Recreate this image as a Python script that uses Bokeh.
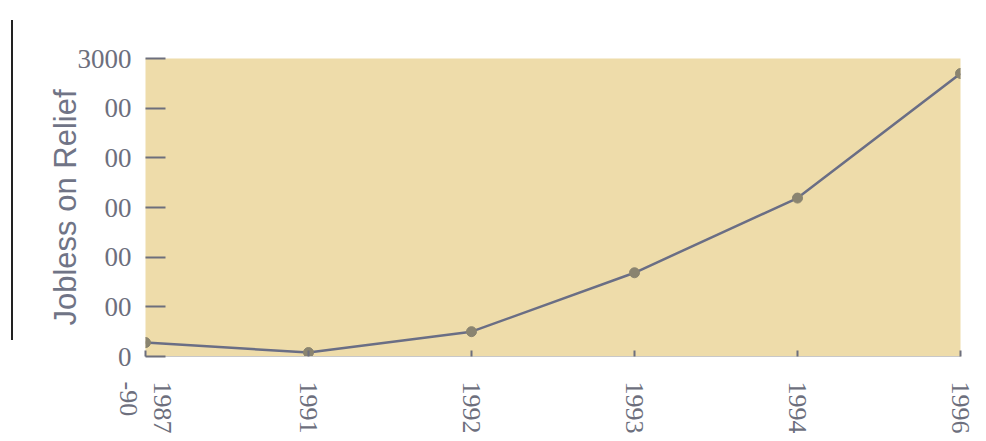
import math
from bokeh.plotting import figure
from bokeh.models import FixedTicker, Range1d, Div
from bokeh.layouts import row
from bokeh.embed import file_html
from bokeh.resources import INLINE

years = ["1987\n-90", "1991", "1992", "1993", "1994", "1996"]
jobless = [140, 40, 250, 843, 1595, 2849]
y_ticks = [0, 500, 1000, 1500, 2000, 2500, 3000]
y_tick_labels = ["0", "00", "00", "00", "00", "00", "3000"]

xs = list(range(len(years)))

edge = Div(text="", width=8, height=320,
           styles={"border-right": "2px solid #222222", "margin-top": "20px"})

p = figure(width=956, height=436, output_backend="svg", toolbar_location=None,
           x_range=Range1d(0, len(years) - 1), y_range=Range1d(0, 3000),
           min_border_left=127, min_border_right=14, min_border_top=58, min_border_bottom=79)
p.background_fill_color = "#EEDCAA"
p.border_fill_color = "white"
p.outline_line_color = None
p.xgrid.visible = False
p.ygrid.visible = False

p.line(xs, jobless, line_color="#6a6e85", line_width=2.5)
p.scatter(xs, jobless, size=10, fill_color="#8a8470", line_color="#8a8470")

ax = p.xaxis[0]
ax.ticker = FixedTicker(ticks=xs)
ax.major_label_overrides = {i: years[i] for i in xs}
ax.major_label_orientation = -math.pi / 2
ax.major_label_text_font = "Liberation Serif"
ax.major_label_text_font_size = "26px"
ax.major_label_text_color = "#6d6f7d"
ax.major_label_standoff = 25
ax.major_tick_in = 6
ax.major_tick_out = 0
ax.minor_tick_line_color = None
ax.major_tick_line_color = "#6d6f7d"
ax.major_tick_line_width = 2
ax.axis_line_color = "#c8c8c8"

ay = p.yaxis[0]
ay.ticker = FixedTicker(ticks=y_ticks)
ay.major_label_overrides = {t: l for t, l in zip(y_ticks, y_tick_labels)}
ay.major_label_text_font = "Liberation Serif"
ay.major_label_text_font_size = "27px"
ay.major_label_text_color = "#6d6f7d"
ay.major_label_standoff = 14
ay.major_tick_in = 20
ay.major_tick_out = 0
ay.minor_tick_line_color = None
ay.major_tick_line_color = "#6d6f7d"
ay.major_tick_line_width = 2
ay.axis_line_color = None
ay.axis_label = "Jobless on Relief"
ay.axis_label_text_font = "Liberation Sans"
ay.axis_label_text_font_style = "normal"
ay.axis_label_text_font_size = "31px"
ay.axis_label_text_color = "#707486"
ay.axis_label_standoff = -8

layout = row(edge, p, spacing=0)
open("out.html", "w").write(file_html(layout, INLINE))
